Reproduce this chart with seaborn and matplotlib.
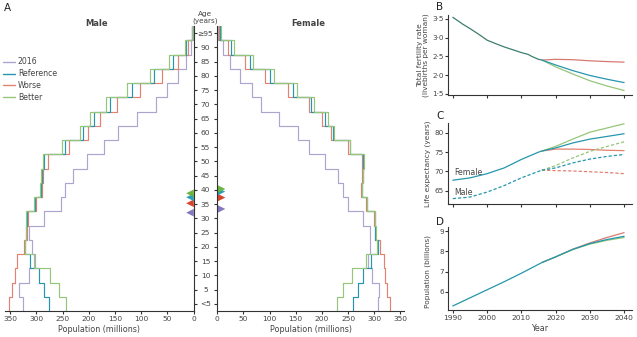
import numpy as np
import pandas as pd
import matplotlib
matplotlib.use("Agg")
import matplotlib.pyplot as plt
from matplotlib.lines import Line2D
import seaborn as sns

sns.set_theme(style="ticks")
plt.rcParams["font.family"] = ["Liberation Sans Narrow", "DejaVu Sans"]
plt.rcParams.update({
    "axes.edgecolor": "#333333",
    "axes.linewidth": 0.8,
    "xtick.color": "#333333",
    "ytick.color": "#333333",
    "xtick.labelcolor": "#444444",
    "ytick.labelcolor": "#444444",
    "xtick.major.width": 0.8,
    "ytick.major.width": 0.8,
    "xtick.major.size": 2.4,
    "ytick.major.size": 2.2,
    "xtick.labelsize": 5.4,
    "ytick.labelsize": 5.4,
    "xtick.major.pad": 1.5,
    "ytick.major.pad": 1.5,
})

# ---------------- data ----------------
age_labels = ["<5", "5", "10", "15", "20", "25", "30", "35", "40", "45",
              "50", "55", "60", "65", "70", "75", "80", "85", "90", "\u226595"]
scenarios = ["2016", "Worse", "Reference", "Better"]

# population by 5-year age group (millions)
male_2016 = [326, 333, 315, 302, 309, 315, 286, 254, 246, 231,
             204, 170, 145, 107, 72, 51, 30, 14, 4, 1]
male_reference = [276, 285, 296, 313, 322, 319, 318, 303, 291, 290,
                  285, 246, 211, 190, 160, 118, 75, 39, 13.5, 2.5]
male_worse = [352, 346, 340, 338, 324, 318, 317, 301, 289, 288,
              278, 238, 201, 179, 146, 103, 61, 30, 10, 2]
male_better = [243, 256, 275, 305, 321, 320, 319, 305, 293, 291,
               288, 251, 216, 198, 167, 127, 84, 47, 17, 3.5]

female_2016 = [307, 310, 296, 289, 292, 292, 279, 250, 241, 230,
               206, 176, 154, 118, 84, 66, 43.5, 24, 10, 2]
female_reference = [260, 269, 278, 294, 308, 302, 301, 286, 276, 278,
                    279, 253, 221, 205, 180, 144, 101, 63, 26, 6]
female_worse = [331, 324, 321, 318, 311, 301, 300, 285, 275, 277,
                276, 250, 218, 200, 175, 135, 91, 53, 21, 4]
female_better = [229, 241, 257, 284, 306, 303, 302, 287, 277, 279,
                 281, 254, 224, 211, 185, 153, 109, 69, 31, 8]

# median age (years)
male_median = {"2016": 32.0, "Worse": 35.3, "Reference": 37.4, "Better": 38.8}
female_median = {"2016": 33.3, "Worse": 37.3, "Reference": 39.4, "Better": 40.3}

# total fertility rate
tfr_years_past = [1990, 1993, 1995, 1998, 2000, 2003, 2005, 2008, 2010, 2012, 2013, 2015, 2016]
tfr_past = [3.54, 3.35, 3.24, 3.06, 2.93, 2.82, 2.75, 2.66, 2.60, 2.55, 2.50, 2.42, 2.40]
fc_years = [2016, 2020, 2025, 2030, 2035, 2040]
tfr_reference = [2.40, 2.27, 2.12, 1.99, 1.89, 1.80]
tfr_worse = [2.40, 2.42, 2.41, 2.38, 2.36, 2.345]
tfr_better = [2.40, 2.22, 2.03, 1.85, 1.71, 1.59]

# life expectancy
le_years_past = [1990, 1995, 2000, 2005, 2010, 2015, 2016]
le_female_past = [67.7, 68.3, 69.4, 70.9, 73.1, 75.0, 75.3]
le_male_past = [62.9, 63.3, 64.6, 66.3, 68.3, 70.0, 70.3]
le_female_reference = [75.3, 76.1, 77.4, 78.4, 79.1, 79.8]
le_female_worse = [75.3, 75.8, 75.8, 75.7, 75.5, 75.4]
le_female_better = [75.3, 76.5, 78.4, 80.2, 81.3, 82.4]
le_male_reference = [70.3, 70.9, 72.2, 73.2, 73.9, 74.4]
le_male_worse = [70.3, 70.2, 70.1, 69.9, 69.7, 69.4]
le_male_better = [70.3, 71.5, 73.5, 75.2, 76.5, 77.7]

# population (billions)
pop_years_past = [1990, 1995, 2000, 2005, 2010, 2016]
pop_past = [5.30, 5.70, 6.10, 6.50, 6.92, 7.45]
pop_years_fc = [2016, 2020, 2025, 2030, 2035, 2040]
pop_reference = [7.45, 7.73, 8.10, 8.39, 8.59, 8.75]
pop_worse = [7.45, 7.73, 8.11, 8.42, 8.69, 8.93]
pop_better = [7.45, 7.73, 8.09, 8.36, 8.55, 8.69]

# ---------------- styling ----------------
line_colors = {"2016": "#aea4d0", "Reference": "#2596ad",
               "Worse": "#e2826f", "Better": "#95c67a"}
tri_colors = {"2016": "#8677bd", "Reference": "#2aa0b6",
              "Worse": "#d8432e", "Better": "#6cb340"}
past_color = "#3d7e70"

W, H = 637, 337
fig = plt.figure(figsize=(W / 100, H / 100), dpi=100)


def box(x0, y0, x1, y1):
    return [x0 / W, 1 - y1 / H, (x1 - x0) / W, (y1 - y0) / H]


ax_m = fig.add_axes(box(5, 26, 193.5, 311))
ax_f = fig.add_axes(box(217.3, 26, 404, 311))
ax_b = fig.add_axes(box(448, 15, 632, 95))
ax_c = fig.add_axes(box(448, 123, 632, 204))
ax_d = fig.add_axes(box(448, 227, 632, 310))


def step_frame(series):
    rows = []
    for name, vals in series.items():
        for i, v in enumerate(vals):
            rows.append((name, v, i - 0.5))
            rows.append((name, v, i + 0.5))
    return pd.DataFrame(rows, columns=["scenario", "population", "band"])


# ---------------- pyramid ----------------
male_df = step_frame({"2016": male_2016, "Worse": male_worse,
                      "Reference": male_reference, "Better": male_better})
female_df = step_frame({"2016": female_2016, "Worse": female_worse,
                        "Reference": female_reference, "Better": female_better})

for ax, df in ((ax_m, male_df), (ax_f, female_df)):
    sns.lineplot(data=df, x="population", y="band", hue="scenario",
                 hue_order=scenarios, palette=line_colors, sort=False,
                 estimator=None, orient="y", linewidth=0.85, ax=ax, legend=False)
    ax.set_ylim(-0.5, 19.5)
    ax.set_xticks([0, 50, 100, 150, 200, 250, 300, 350])
    ax.spines["top"].set_visible(False)

ax_m.set_xlim(360, 0)
ax_f.set_xlim(0, 357)
ax_m.spines["left"].set_visible(False)
ax_f.spines["right"].set_visible(False)

ax_m.yaxis.tick_right()
ax_m.set_yticks(range(20))
ax_m.set_yticklabels(age_labels, ha="center")
ax_m.tick_params(axis="y", direction="out", length=2.2, pad=6.4, labelsize=5.4)
ax_f.set_yticks(range(20))
ax_f.tick_params(axis="y", direction="out", length=2.2, labelleft=False)

# median-age markers
m_med = pd.DataFrame({"scenario": list(male_median),
                      "pos": [v / 5 for v in male_median.values()],
                      "x": 6.7})
f_med = pd.DataFrame({"scenario": list(female_median),
                      "pos": [v / 5 for v in female_median.values()],
                      "x": 8.0})
sns.scatterplot(data=m_med, x="x", y="pos", hue="scenario", palette=tri_colors,
                marker="<", s=30, edgecolor="none", ax=ax_m, legend=False, clip_on=False)
sns.scatterplot(data=f_med, x="x", y="pos", hue="scenario", palette=tri_colors,
                marker=">", s=30, edgecolor="none", ax=ax_f, legend=False, clip_on=False)
for ax in (ax_m, ax_f):
    ax.set_xlabel("Population (millions)", fontsize=5.8, color="#444444", labelpad=1.5)
    ax.set_ylabel("")

handles = [Line2D([], [], color=line_colors[k], lw=1.0) for k in ["2016", "Reference", "Worse", "Better"]]
ax_m.legend(handles, ["2016", "Reference", "Worse", "Better"], loc="upper left",
            bbox_to_anchor=(3 / W, 1 - 57.5 / H), bbox_transform=fig.transFigure,
            frameon=False, fontsize=5.6, handlelength=1.6, handletextpad=0.3,
            labelspacing=0.35, borderpad=0, borderaxespad=0, labelcolor="#444444")

fig.text(97 / W, 1 - 24 / H, "Male", ha="center", va="center", fontsize=6,
         fontweight="bold", color="#444444")
fig.text(308 / W, 1 - 24 / H, "Female", ha="center", va="center", fontsize=6,
         fontweight="bold", color="#444444")
fig.text(205.5 / W, 1 - 17.5 / H, "Age\n(years)", ha="center", va="center",
         fontsize=5.2, color="#444444", linespacing=1.0)

# ---------------- right-hand panels ----------------
tfr_df = pd.concat([
    pd.DataFrame({"year": tfr_years_past, "value": tfr_past, "scenario": "Past"}),
    pd.DataFrame({"year": fc_years, "value": tfr_worse, "scenario": "Worse"}),
    pd.DataFrame({"year": fc_years, "value": tfr_better, "scenario": "Better"}),
    pd.DataFrame({"year": fc_years, "value": tfr_reference, "scenario": "Reference"}),
])
pal_b = dict(line_colors, Past=past_color)
pal_b["Worse"] = "#d77a72"
sns.lineplot(data=tfr_df, x="year", y="value", hue="scenario", palette=pal_b,
             estimator=None, linewidth=0.9, ax=ax_b, legend=False)
ax_b.set_ylim(1.47, 3.6)
ax_b.set_yticks([1.5, 2.0, 2.5, 3.0, 3.5])
ax_b.set_yticklabels(["1\u00b75", "2\u00b70", "2\u00b75", "3\u00b70", "3\u00b75"])

le_rows = []
for sex, past, fc in (("Female", le_female_past,
                       {"Worse": le_female_worse, "Better": le_female_better,
                        "Reference": le_female_reference}),
                      ("Male", le_male_past,
                       {"Worse": le_male_worse, "Better": le_male_better,
                        "Reference": le_male_reference})):
    le_rows.append(pd.DataFrame({"year": le_years_past, "value": past,
                                 "scenario": "History", "sex": sex}))
    for k, v in fc.items():
        le_rows.append(pd.DataFrame({"year": fc_years, "value": v,
                                     "scenario": k, "sex": sex}))
le_df = pd.concat(le_rows)
pal_c = dict(line_colors, History="#2596ad")
sns.lineplot(data=le_df, x="year", y="value", hue="scenario", style="sex",
             units="sex", palette=pal_c, dashes={"Female": "", "Male": (2.6, 1.6)},
             estimator=None, linewidth=0.9, ax=ax_c, legend=False)
ax_c.set_ylim(61.5, 82.6)
ax_c.set_yticks([65, 70, 75, 80])
ax_c.text(1990.3, 69.8, "Female", fontsize=5.6, color="#444444", va="center")
ax_c.text(1990.3, 64.4, "Male", fontsize=5.6, color="#444444", va="center")

pop_df = pd.concat([
    pd.DataFrame({"year": pop_years_past, "value": pop_past, "scenario": "History"}),
    pd.DataFrame({"year": pop_years_fc, "value": pop_worse, "scenario": "Worse"}),
    pd.DataFrame({"year": pop_years_fc, "value": pop_better, "scenario": "Better"}),
    pd.DataFrame({"year": pop_years_fc, "value": pop_reference, "scenario": "Reference"}),
])
pal_d = dict(line_colors, History="#2596ad")
pal_d["Worse"] = "#d77a72"
sns.lineplot(data=pop_df, x="year", y="value", hue="scenario", palette=pal_d,
             estimator=None, linewidth=0.9, ax=ax_d, legend=False)
ax_d.set_ylim(5.1, 9.21)
ax_d.set_yticks([6, 7, 8, 9])

for ax in (ax_b, ax_c, ax_d):
    sns.despine(ax=ax)
    ax.set_xlim(1988.6, 2042.3)
    ax.set_xticks([1990, 2000, 2010, 2020, 2030, 2040])
    ax.set_xlabel("")
    ax.set_ylabel("")
    ax.tick_params(direction="out")
    ax.tick_params(axis="y", length=2.2, pad=0.6, labelsize=5.2)
ax_b.tick_params(axis="x", labelbottom=False)
ax_c.tick_params(axis="x", labelbottom=False)
ax_d.set_xlabel("Year", fontsize=5.8, color="#444444", labelpad=2)

fig.text(423 / W, 1 - 55 / H, "Total fertility rate\n(livebirths per woman)",
         rotation=90, ha="center", va="center", fontsize=5.3, color="#444444",
         linespacing=1.05)
fig.text(427.5 / W, 1 - 163.5 / H, "Life expectancy (years)", rotation=90,
         ha="center", va="center", fontsize=5.3, color="#444444")
fig.text(427.5 / W, 1 - 271 / H, "Population (billions)", rotation=90,
         ha="center", va="center", fontsize=5.3, color="#444444")

# panel letters
for lbl, x, y in (("A", 7, 8), ("B", 440, 7), ("C", 440, 116), ("D", 440, 222)):
    fig.text(x / W, 1 - y / H, lbl, ha="center", va="center", fontsize=7.5,
             color="#222222")

fig.savefig("out.png", dpi=100)
